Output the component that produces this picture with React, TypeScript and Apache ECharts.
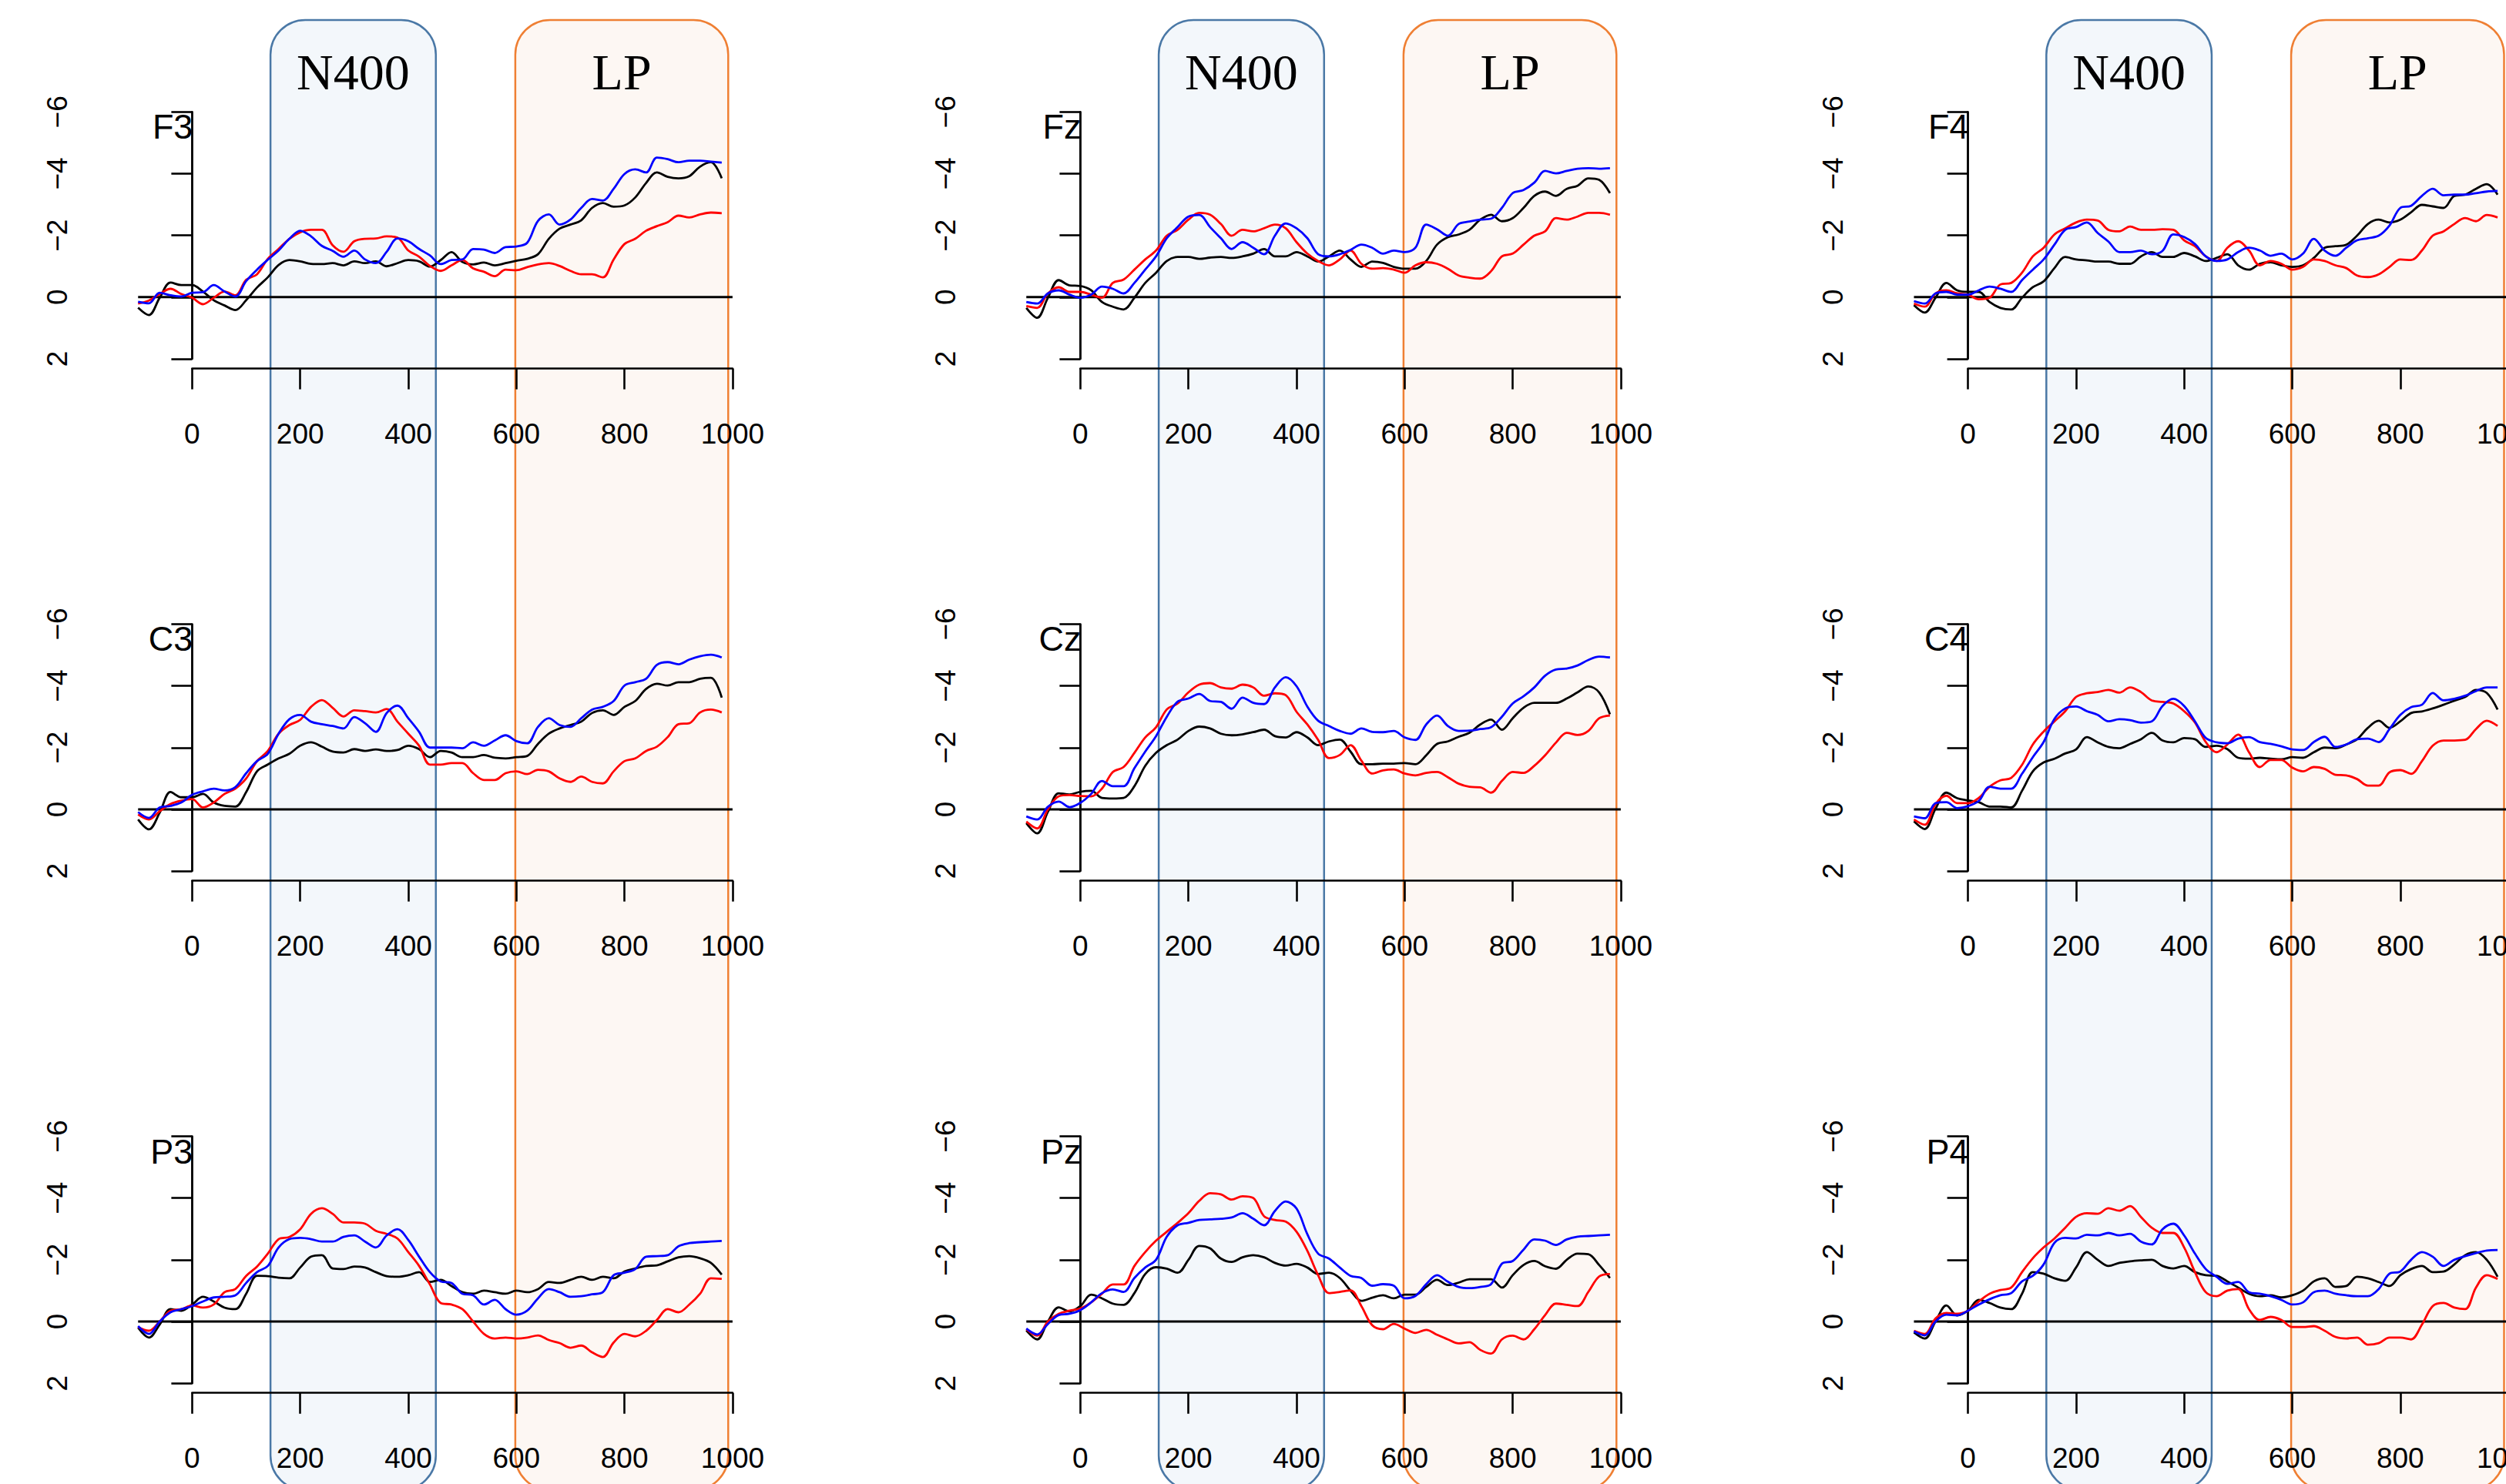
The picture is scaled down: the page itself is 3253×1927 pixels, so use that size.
import React, { useEffect, useRef } from "react";
import * as echarts from "echarts";

// ---------- data ----------
const TIMES = [
  -100, -80, -60, -40, -20, 0, 20, 40, 60, 80,
  100, 120, 140, 160, 180, 200, 220, 240, 260, 280,
  300, 320, 340, 360, 380, 400, 420, 440, 460, 480,
  500, 520, 540, 560, 580, 600, 620, 640, 660, 680,
  700, 720, 740, 760, 780, 800, 820, 840, 860, 880,
  900, 920, 940, 960, 980,
];

const CHANNELS = ["F3", "Fz", "F4", "C3", "Cz", "C4", "P3", "Pz", "P4"];
const Y_TICKS = [-6, -4, -2, 0, 2];
const X_TICKS = [0, 200, 400, 600, 800, 1000];
const WINDOW_NAMES = ["N400", "LP"];
const WINDOW_FROM = [145, 598];
const WINDOW_TO = [451, 992];

const F3_BLACK = [0.34, 0.58, 0.02, -0.47, -0.39, -0.39, -0.18, 0.1, 0.27, 0.42,
  0.1, -0.31, -0.64, -1.04, -1.2, -1.16, -1.08, -1.07, -1.1, -1.03,
  -1.16, -1.1, -1.16, -1.0, -1.1, -1.2, -1.16, -0.99, -1.2, -1.46,
  -1.14, -1.06, -1.12, -1.03, -1.1, -1.18, -1.24, -1.39, -1.89, -2.22,
  -2.35, -2.49, -2.89, -3.05, -2.93, -2.97, -3.23, -3.7, -4.04, -3.9,
  -3.85, -3.92, -4.23, -4.37, -3.85];
const F3_RED = [0.21, 0.11, -0.1, -0.27, -0.1, 0.02, 0.23, 0.02, -0.18, -0.06,
  -0.56, -0.74, -1.24, -1.56, -1.89, -2.1, -2.18, -2.18, -1.68, -1.47,
  -1.81, -1.89, -1.9, -1.97, -1.93, -1.51, -1.31, -1.01, -0.85, -1.03,
  -1.2, -0.93, -0.82, -0.68, -0.89, -0.87, -0.97, -1.06, -1.1, -1.01,
  -0.85, -0.74, -0.74, -0.64, -1.22, -1.72, -1.89, -2.15, -2.3, -2.43,
  -2.64, -2.58, -2.68, -2.74, -2.72];
const F3_BLUE = [0.15, 0.2, -0.14, -0.06, -0.02, -0.14, -0.16, -0.39, -0.18, -0.02,
  -0.52, -0.89, -1.21, -1.51, -1.89, -2.15, -1.97, -1.66, -1.5, -1.31,
  -1.51, -1.22, -1.1, -1.47, -1.9, -1.81, -1.56, -1.35, -1.07, -1.2,
  -1.22, -1.56, -1.54, -1.43, -1.62, -1.64, -1.76, -2.47, -2.68, -2.35,
  -2.51, -2.89, -3.18, -3.13, -3.51, -3.99, -4.14, -4.04, -4.52, -4.47,
  -4.37, -4.42, -4.42, -4.39, -4.36];

const FZ_BLACK = [0.35, 0.67, 0.02, -0.55, -0.38, -0.36, -0.22, 0.16, 0.31, 0.4,
  0.02, -0.46, -0.79, -1.17, -1.3, -1.3, -1.24, -1.28, -1.3, -1.27,
  -1.32, -1.41, -1.56, -1.32, -1.32, -1.46, -1.32, -1.15, -1.32, -1.51,
  -1.22, -0.98, -1.15, -1.11, -0.98, -0.92, -0.92, -1.17, -1.7, -1.94,
  -2.03, -2.18, -2.51, -2.67, -2.46, -2.56, -2.89, -3.28, -3.42, -3.28,
  -3.51, -3.61, -3.85, -3.8, -3.37];
const FZ_RED = [0.29, 0.35, -0.12, -0.32, -0.17, -0.17, -0.08, 0.02, -0.46, -0.57,
  -0.89, -1.22, -1.51, -1.99, -2.18, -2.51, -2.73, -2.67, -2.37, -1.99,
  -2.18, -2.13, -2.23, -2.35, -2.23, -1.78, -1.41, -1.17, -1.03, -1.22,
  -1.51, -1.08, -0.92, -0.94, -0.89, -0.79, -1.03, -1.13, -1.08, -0.92,
  -0.7, -0.63, -0.6, -0.84, -1.32, -1.41, -1.7, -1.99, -2.13, -2.56,
  -2.51, -2.61, -2.73, -2.73, -2.67];
const FZ_BLUE = [0.16, 0.21, -0.12, -0.22, -0.08, 0.02, -0.08, -0.34, -0.27, -0.12,
  -0.46, -0.89, -1.32, -1.91, -2.27, -2.61, -2.66, -2.27, -1.91, -1.56,
  -1.78, -1.6, -1.39, -1.99, -2.39, -2.23, -1.91, -1.39, -1.32, -1.39,
  -1.53, -1.7, -1.6, -1.41, -1.51, -1.46, -1.6, -2.35, -2.2, -1.99,
  -2.37, -2.45, -2.51, -2.54, -2.89, -3.37, -3.47, -3.71, -4.09, -4.01,
  -4.09, -4.16, -4.18, -4.16, -4.18];

const F4_BLACK = [0.26, 0.5, 0.02, -0.46, -0.22, -0.17, -0.17, 0.16, 0.35, 0.4,
  0.02, -0.32, -0.51, -0.94, -1.3, -1.22, -1.19, -1.15, -1.15, -1.08,
  -1.08, -1.32, -1.46, -1.3, -1.3, -1.43, -1.32, -1.17, -1.27, -1.39,
  -1.03, -0.89, -1.08, -1.13, -1.03, -0.98, -1.03, -1.27, -1.6, -1.65,
  -1.7, -1.99, -2.37, -2.51, -2.42, -2.51, -2.75, -2.99, -2.94, -2.89,
  -3.28, -3.32, -3.51, -3.66, -3.32];
const F4_RED = [0.21, 0.31, -0.12, -0.22, -0.12, -0.08, 0.07, 0.02, -0.41, -0.46,
  -0.79, -1.32, -1.6, -2.03, -2.23, -2.42, -2.51, -2.48, -2.18, -2.13,
  -2.29, -2.18, -2.18, -2.2, -2.18, -1.84, -1.65, -1.32, -1.17, -1.6,
  -1.81, -1.51, -1.03, -1.17, -1.08, -0.89, -0.98, -1.22, -1.17, -1.03,
  -0.94, -0.7, -0.65, -0.74, -0.98, -1.22, -1.2, -1.51, -1.99, -2.13,
  -2.37, -2.56, -2.46, -2.66, -2.58];
const F4_BLUE = [0.13, 0.21, -0.12, -0.17, -0.08, -0.08, -0.22, -0.34, -0.27, -0.17,
  -0.55, -0.89, -1.22, -1.7, -2.18, -2.27, -2.42, -2.08, -1.8, -1.46,
  -1.46, -1.51, -1.39, -1.5, -2.03, -1.95, -1.72, -1.32, -1.17, -1.22,
  -1.46, -1.6, -1.51, -1.34, -1.41, -1.22, -1.41, -1.89, -1.51, -1.34,
  -1.6, -1.84, -1.91, -1.99, -2.32, -2.89, -2.96, -3.28, -3.51, -3.3,
  -3.32, -3.32, -3.37, -3.42, -3.44];

const C3_BLACK = [0.33, 0.65, 0.11, -0.56, -0.39, -0.39, -0.5, -0.22, -0.11, -0.09,
  -0.56, -1.23, -1.45, -1.65, -1.8, -2.06, -2.17, -2.03, -1.87, -1.84,
  -1.95, -1.89, -1.94, -1.89, -1.92, -2.06, -1.95, -1.69, -1.89, -1.84,
  -1.69, -1.69, -1.76, -1.67, -1.65, -1.69, -1.73, -2.12, -2.45, -2.62,
  -2.73, -2.84, -3.12, -3.21, -3.06, -3.32, -3.51, -3.9, -4.07, -4.01,
  -4.12, -4.12, -4.23, -4.26, -3.62];
const C3_RED = [0.17, 0.33, 0.06, -0.17, -0.28, -0.33, -0.06, -0.22, -0.5, -0.67,
  -1.0, -1.56, -1.89, -2.45, -2.73, -2.9, -3.32, -3.54, -3.29, -3.01,
  -3.21, -3.18, -3.14, -3.25, -2.84, -2.45, -2.06, -1.45, -1.45, -1.5,
  -1.5, -1.17, -0.95, -0.95, -1.17, -1.23, -1.14, -1.28, -1.23, -1.0,
  -0.89, -1.06, -0.89, -0.84, -1.23, -1.56, -1.65, -1.89, -2.03, -2.34,
  -2.76, -2.79, -3.14, -3.23, -3.14];
const C3_BLUE = [0.09, 0.28, -0.06, -0.11, -0.22, -0.47, -0.58, -0.67, -0.61, -0.72,
  -1.17, -1.56, -1.8, -2.45, -2.92, -3.06, -2.84, -2.76, -2.7, -2.62,
  -2.99, -2.79, -2.51, -3.12, -3.36, -2.95, -2.51, -2.0, -2.0, -2.0,
  -1.98, -2.17, -2.06, -2.23, -2.4, -2.21, -2.14, -2.67, -2.95, -2.73,
  -2.67, -2.95, -3.23, -3.32, -3.51, -4.01, -4.12, -4.23, -4.68, -4.77,
  -4.7, -4.85, -4.96, -5.01, -4.92];

const CZ_BLACK = [0.45, 0.78, 0.08, -0.52, -0.48, -0.57, -0.6, -0.37, -0.35, -0.37,
  -0.75, -1.41, -1.83, -2.08, -2.26, -2.54, -2.68, -2.62, -2.45, -2.4,
  -2.43, -2.5, -2.58, -2.37, -2.33, -2.5, -2.33, -2.08, -2.2, -2.26,
  -1.87, -1.46, -1.46, -1.48, -1.48, -1.5, -1.46, -1.75, -2.12, -2.2,
  -2.35, -2.48, -2.75, -2.91, -2.58, -2.95, -3.29, -3.45, -3.45, -3.45,
  -3.59, -3.79, -3.98, -3.79, -3.08];
const CZ_RED = [0.4, 0.62, 0, -0.42, -0.46, -0.43, -0.42, -0.67, -1.21, -1.37,
  -1.83, -2.33, -2.66, -3.24, -3.43, -3.79, -4.04, -4.09, -3.95, -3.91,
  -4.04, -3.95, -3.68, -3.76, -3.7, -3.16, -2.75, -2.25, -1.66, -1.76,
  -2.08, -1.58, -1.16, -1.26, -1.29, -1.16, -1.1, -1.18, -1.21, -1.04,
  -0.83, -0.73, -0.71, -0.54, -0.92, -1.21, -1.18, -1.41, -1.75, -2.16,
  -2.48, -2.41, -2.54, -2.95, -3.04];
const CZ_BLUE = [0.23, 0.33, -0.08, -0.25, -0.07, -0.21, -0.5, -0.92, -0.75, -0.75,
  -1.33, -1.87, -2.37, -3.0, -3.49, -3.59, -3.74, -3.51, -3.48, -3.26,
  -3.62, -3.45, -3.41, -3.95, -4.28, -3.99, -3.33, -2.87, -2.7, -2.54,
  -2.45, -2.62, -2.51, -2.5, -2.54, -2.33, -2.25, -2.75, -3.04, -2.7,
  -2.54, -2.55, -2.6, -2.66, -3.0, -3.43, -3.66, -3.95, -4.33, -4.53,
  -4.56, -4.66, -4.84, -4.95, -4.92];

const C4_BLACK = [0.39, 0.64, -0.02, -0.54, -0.36, -0.29, -0.23, -0.09, -0.09, -0.06,
  -0.6, -1.23, -1.52, -1.64, -1.81, -1.94, -2.34, -2.17, -2.02, -1.98,
  -2.12, -2.27, -2.48, -2.23, -2.17, -2.31, -2.27, -2.02, -2.06, -1.95,
  -1.67, -1.64, -1.67, -1.64, -1.62, -1.69, -1.67, -1.85, -2.0, -1.98,
  -2.1, -2.27, -2.64, -2.87, -2.64, -2.85, -3.12, -3.17, -3.27, -3.39,
  -3.52, -3.64, -3.87, -3.77, -3.23];
const C4_RED = [0.33, 0.5, -0.17, -0.44, -0.2, -0.2, -0.37, -0.73, -0.94, -1.02,
  -1.44, -2.1, -2.52, -2.85, -3.18, -3.64, -3.76, -3.8, -3.87, -3.78,
  -3.95, -3.8, -3.53, -3.48, -3.43, -3.18, -2.81, -2.18, -1.85, -2.1,
  -2.42, -1.85, -1.37, -1.6, -1.6, -1.35, -1.23, -1.37, -1.31, -1.12,
  -1.1, -0.98, -0.77, -0.77, -1.2, -1.27, -1.15, -1.56, -2.06, -2.23,
  -2.23, -2.25, -2.6, -2.87, -2.7];
const C4_BLUE = [0.23, 0.29, -0.2, -0.23, -0.04, -0.1, -0.27, -0.73, -0.67, -0.67,
  -1.15, -1.69, -2.18, -2.93, -3.27, -3.33, -3.18, -3.06, -2.85, -2.92,
  -2.89, -2.81, -2.85, -3.35, -3.58, -3.35, -2.85, -2.31, -2.17, -2.14,
  -2.29, -2.34, -2.18, -2.12, -2.04, -1.94, -1.92, -2.18, -2.35, -2.02,
  -2.1, -2.27, -2.29, -2.18, -2.6, -3.06, -3.31, -3.39, -3.77, -3.53,
  -3.58, -3.68, -3.83, -3.95, -3.95];

const P3_BLACK = [0.2, 0.52, 0.1, -0.4, -0.35, -0.55, -0.8, -0.65, -0.45, -0.4,
  -0.9, -1.48, -1.47, -1.42, -1.4, -1.75, -2.1, -2.15, -1.72, -1.7,
  -1.78, -1.75, -1.6, -1.47, -1.45, -1.5, -1.6, -1.28, -1.35, -1.15,
  -0.95, -0.9, -1.0, -0.95, -0.9, -1.0, -0.95, -1.05, -1.28, -1.25,
  -1.35, -1.45, -1.35, -1.45, -1.4, -1.62, -1.72, -1.8, -1.82, -1.95,
  -2.08, -2.12, -2.05, -1.9, -1.52];
const P3_RED = [0.18, 0.3, 0, -0.35, -0.4, -0.52, -0.45, -0.55, -0.95, -1.05,
  -1.48, -1.78, -2.2, -2.67, -2.74, -2.99, -3.49, -3.67, -3.49, -3.21,
  -3.21, -3.17, -2.94, -2.84, -2.69, -2.25, -1.8, -1.2, -0.6, -0.55,
  -0.4, 0, 0.4, 0.55, 0.52, 0.55, 0.52, 0.45, 0.6, 0.7,
  0.85, 0.78, 1.0, 1.15, 0.68, 0.4, 0.48, 0.3, -0.05, -0.4,
  -0.3, -0.55, -0.9, -1.4, -1.38];
const P3_BLUE = [0.15, 0.4, 0, -0.3, -0.4, -0.5, -0.65, -0.78, -0.8, -0.85,
  -1.25, -1.6, -1.8, -2.4, -2.67, -2.71, -2.67, -2.59, -2.59, -2.74,
  -2.79, -2.59, -2.4, -2.79, -2.99, -2.64, -2.1, -1.6, -1.3, -1.25,
  -0.9, -0.85, -0.55, -0.7, -0.4, -0.22, -0.35, -0.75, -1.05, -0.95,
  -0.8, -0.82, -0.88, -0.95, -1.5, -1.58, -1.7, -2.1, -2.12, -2.15,
  -2.44, -2.54, -2.57, -2.59, -2.61];

const PZ_BLACK = [0.29, 0.58, 0, -0.46, -0.33, -0.5, -0.87, -0.75, -0.58, -0.54,
  -0.92, -1.54, -1.76, -1.71, -1.58, -2.0, -2.45, -2.37, -2.04, -1.93,
  -2.08, -2.15, -2.08, -1.9, -1.81, -1.87, -1.75, -1.54, -1.58, -1.41,
  -1.0, -0.67, -0.77, -0.85, -0.75, -0.87, -0.87, -1.12, -1.35, -1.18,
  -1.26, -1.37, -1.37, -1.37, -1.1, -1.5, -1.83, -1.96, -1.79, -1.71,
  -2.0, -2.2, -2.18, -1.83, -1.41];
const PZ_RED = [0.25, 0.46, 0, -0.25, -0.35, -0.42, -0.62, -0.9, -1.2, -1.2,
  -1.8, -2.25, -2.62, -2.91, -3.2, -3.51, -3.91, -4.16, -4.12, -3.95,
  -4.06, -4.0, -3.41, -3.29, -3.24, -2.91, -2.29, -1.5, -0.92, -0.96,
  -1.01, -0.5, 0.12, 0.25, 0.08, 0.23, 0.37, 0.27, 0.43, 0.58,
  0.71, 0.67, 0.92, 1.04, 0.58, 0.46, 0.58, 0.25, -0.21, -0.58,
  -0.54, -0.5, -0.96, -1.46, -1.54];
const PZ_BLUE = [0.23, 0.42, 0.08, -0.21, -0.25, -0.37, -0.62, -0.92, -1.04, -0.96,
  -1.41, -1.75, -2.0, -2.75, -3.12, -3.2, -3.29, -3.31, -3.33, -3.37,
  -3.51, -3.33, -3.12, -3.58, -3.89, -3.66, -2.83, -2.2, -2.04, -1.75,
  -1.48, -1.41, -1.16, -1.21, -1.16, -0.75, -0.83, -1.21, -1.5, -1.29,
  -1.12, -1.08, -1.12, -1.21, -1.87, -1.96, -2.33, -2.66, -2.62, -2.48,
  -2.66, -2.75, -2.77, -2.79, -2.81];

const P4_BLACK = [0.35, 0.55, 0, -0.52, -0.2, -0.35, -0.7, -0.6, -0.45, -0.4,
  -0.9, -1.6, -1.55, -1.4, -1.32, -1.75, -2.25, -2.0, -1.8, -1.9,
  -1.95, -1.98, -2.0, -1.8, -1.72, -1.8, -1.6, -1.5, -1.48, -1.3,
  -1.1, -0.9, -0.82, -0.85, -0.78, -0.85, -1.0, -1.3, -1.4, -1.12,
  -1.15, -1.45, -1.4, -1.28, -1.15, -1.5, -1.7, -1.8, -1.6, -1.62,
  -1.85, -2.15, -2.25, -2.0, -1.45];
const P4_RED = [0.3, 0.4, -0.1, -0.28, -0.25, -0.35, -0.65, -0.9, -1.02, -1.1,
  -1.6, -2.05, -2.4, -2.69, -3.04, -3.39, -3.51, -3.49, -3.67, -3.59,
  -3.74, -3.39, -3.04, -2.87, -2.87, -2.4, -1.6, -0.95, -0.82, -1.0,
  -1.05, -0.4, -0.05, -0.15, -0.05, 0.18, 0.18, 0.15, 0.3, 0.5,
  0.55, 0.52, 0.75, 0.7, 0.52, 0.52, 0.58, 0.1, -0.5, -0.6,
  -0.45, -0.4, -1.1, -1.5, -1.38];
const P4_BLUE = [0.32, 0.45, 0, -0.22, -0.2, -0.35, -0.55, -0.72, -0.85, -0.92,
  -1.3, -1.48, -1.85, -2.55, -2.71, -2.69, -2.81, -2.79, -2.87, -2.79,
  -2.84, -2.59, -2.5, -2.99, -3.17, -2.79, -2.2, -1.7, -1.45, -1.22,
  -1.28, -0.95, -0.9, -0.82, -0.7, -0.55, -0.62, -0.95, -1.0, -0.9,
  -0.85, -0.82, -0.82, -1.05, -1.55, -1.62, -2.0, -2.25, -2.1, -1.8,
  -2.0, -2.12, -2.22, -2.3, -2.32];

const WAVES: Record<string, number[][]> = {
  F3: [F3_BLACK, F3_RED, F3_BLUE],
  Fz: [FZ_BLACK, FZ_RED, FZ_BLUE],
  F4: [F4_BLACK, F4_RED, F4_BLUE],
  C3: [C3_BLACK, C3_RED, C3_BLUE],
  Cz: [CZ_BLACK, CZ_RED, CZ_BLUE],
  C4: [C4_BLACK, C4_RED, C4_BLUE],
  P3: [P3_BLACK, P3_RED, P3_BLUE],
  Pz: [PZ_BLACK, PZ_RED, PZ_BLUE],
  P4: [P4_BLACK, P4_RED, P4_BLUE],
};
const WAVE_COLORS = ["#000000", "#ff0000", "#0000ff"];

// ---------- layout ----------
const W = 3253;
const H = 1927;
const X_MIN = -100;
const X_MAX = 1000;
const Y_MIN = -6;
const Y_MAX = 2;
const COL_X0 = [249.4, 1402.4, 2554.6];
const ROW_Y0 = [385.8, 1050.9, 1716];
const PX_PER_MS = 0.7015;
const PX_PER_UV = 40.07;
const WIN_STROKE = ["#4a78a6", "#ef7f33"];
const WIN_FILL = ["#f3f7fb", "#fdf7f3"];
const SANS = "Liberation Sans";

const fmtY = (v: number) => (v < 0 ? "\u2212" + Math.abs(v) : String(v));
const fmtX = (v: number) => String(v);

function buildOption() {
  const grid: any[] = [];
  const xAxis: any[] = [];
  const yAxis: any[] = [];
  const series: any[] = [];
  const graphic: any[] = [];

  CHANNELS.forEach((ch, i) => {
    const r = Math.floor(i / 3);
    const c = i % 3;
    const x0 = COL_X0[c];
    const y0 = ROW_Y0[r];
    const top = y0 + Y_MIN * PX_PER_UV;
    const plotH = (Y_MAX - Y_MIN) * PX_PER_UV;
    const g = 2 * i;

    grid.push({
      left: x0 + X_MIN * PX_PER_MS, top, width: (X_MAX - X_MIN) * PX_PER_MS, height: plotH,
      outerBoundsMode: "none", containLabel: false,
    });
    grid.push({
      left: x0, top, width: X_MAX * PX_PER_MS, height: plotH + 12.6,
      outerBoundsMode: "none", containLabel: false,
    });

    xAxis.push({ gridIndex: g, type: "value", min: X_MIN, max: X_MAX, show: false });
    xAxis.push({
      gridIndex: g + 1,
      type: "value",
      min: X_TICKS[0],
      max: X_TICKS[X_TICKS.length - 1],
      interval: X_TICKS[1] - X_TICKS[0],
      axisLine: { show: true, lineStyle: { color: "#000", width: 2.6 } },
      axisTick: { show: true, length: 27, lineStyle: { color: "#000", width: 2.6 } },
      axisLabel: { margin: 66, fontSize: 37, fontFamily: SANS, color: "#000", formatter: fmtX },
      splitLine: { show: false },
    });
    yAxis.push({
      gridIndex: g,
      type: "value",
      min: Y_TICKS[0],
      max: Y_TICKS[Y_TICKS.length - 1],
      interval: Y_TICKS[1] - Y_TICKS[0],
      inverse: true,
      position: "left",
      offset: 31,
      axisLine: { show: true, lineStyle: { color: "#000", width: 2.6 } },
      axisTick: { show: true, length: 27, lineStyle: { color: "#000", width: 2.6 } },
      axisLabel: { rotate: 90, margin: 55, fontSize: 37, fontFamily: SANS, color: "#000", formatter: fmtY },
      splitLine: { show: false },
    });
    yAxis.push({ gridIndex: g + 1, type: "value", min: 0, max: 1, show: false });

    series.push({
      type: "line", xAxisIndex: g, yAxisIndex: g, silent: true, symbol: "none", z: 2,
      data: [[X_MIN, 0], [X_MAX, 0]], lineStyle: { color: "#000", width: 3 },
    });
    series.push({
      type: "line", xAxisIndex: g, yAxisIndex: g, silent: true, symbol: "none", z: 2,
      data: [[0, Y_MIN], [0, Y_MAX]], lineStyle: { color: "#000", width: 2.2 },
    });
    WAVES[ch].forEach((vals, k) => {
      series.push({
        type: "line", xAxisIndex: g, yAxisIndex: g, silent: true, symbol: "none",
        showSymbol: false, smooth: 0.35, z: 3,
        data: TIMES.map((t, j) => [t, vals[j]]),
        lineStyle: { color: WAVE_COLORS[k], width: 2.8 },
      });
    });

    graphic.push({
      type: "text", x: x0 + 1, y: y0 - 221, z: 10, silent: true,
      style: {
        text: ch, fill: "#000", fontSize: 45, fontFamily: SANS,
        align: "right", verticalAlign: "middle", textAlign: "right", textVerticalAlign: "middle",
      },
    });
  });

  COL_X0.forEach((x0) => {
    WINDOW_NAMES.forEach((name, w) => {
      const left = x0 + WINDOW_FROM[w] * PX_PER_MS;
      const right = x0 + WINDOW_TO[w] * PX_PER_MS;
      graphic.push({
        type: "rect", z: -1, silent: true,
        shape: { x: left, y: 26, width: right - left, height: 1935 - 26, r: 45 },
        style: { fill: WIN_FILL[w], stroke: WIN_STROKE[w], lineWidth: 2.5 },
      });
      graphic.push({
        type: "text", x: (left + right) / 2, y: 93, z: 10, silent: true,
        style: {
          text: name, fill: "#000", fontSize: 66, fontFamily: "Liberation Serif",
          align: "center", verticalAlign: "middle", textAlign: "center", textVerticalAlign: "middle",
        },
      });
    });
  });

  return {
    animation: false,
    backgroundColor: "#ffffff",
    grid,
    xAxis,
    yAxis,
    series,
    graphic,
  };
}

export default function App() {
  const ref = useRef<HTMLDivElement>(null);
  useEffect(() => {
    if (!ref.current) return;
    const chart = echarts.init(ref.current, undefined, { renderer: "svg", width: W, height: H });
    chart.setOption(buildOption() as any);
    return () => chart.dispose();
  }, []);
  return (
    <div
      ref={ref}
      style={{ position: "absolute", left: 0, top: 0, width: W, height: H, background: "#fff" }}
    />
  );
}
